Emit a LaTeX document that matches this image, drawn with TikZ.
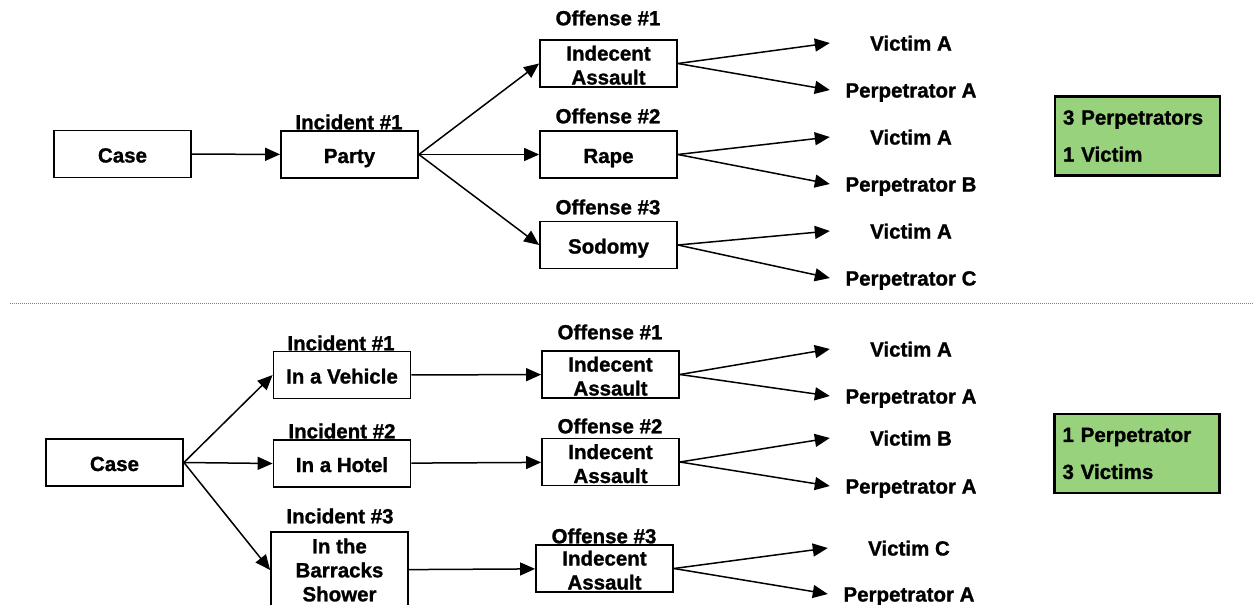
\documentclass[tikz,border=0pt]{standalone}
\usepackage{fontspec}
\setmainfont{Liberation Sans}[BoldFeatures={FakeBold=1.2}]
\usetikzlibrary{arrows.meta}
\definecolor{sumgreen}{RGB}{152,210,124}
\begin{document}
\begin{tikzpicture}[x=1pt,y=-1pt,
  every node/.style={font=\fontsize{20.5}{24}\selectfont\bfseries, inner sep=0pt},
  box/.style={draw, line width=1.8pt, minimum width=137pt, minimum height=47pt,
    text height=17pt, text depth=0pt},
  box2/.style={draw, line width=1.8pt, minimum width=137pt, minimum height=47pt,
    align=center, text height=42pt, text depth=0pt},
  who/.style={minimum width=162pt, text height=15pt, text depth=0pt},
  arr/.style={-{Triangle[length=15pt,width=13pt]}, line width=1.5pt},
  summary/.style={draw, line width=2.5pt, fill=sumgreen, minimum height=79pt,
    text width=149pt, inner xsep=8pt, align=left}
]
\clip (0,0) rectangle (1254,605);

% ---------- one incident, several offenses ----------
\node[box] (caseA) at (122.5,154) {Case};
\node[box] (party) at (349.5,154.5) {Party};
\node (incA) at (349,122) {Incident \#1};

\node[box2] (oA1) at (608.5,63.5) {Indecent\\Assault};
\node[box] (oA2) at (608.5,154.5) {Rape};
\node[box] (oA3) at (608.5,245) {Sodomy};
\node (loA1) at (608,18) {Offense \#1};
\node (loA2) at (608,116) {Offense \#2};
\node (loA3) at (608,207) {Offense \#3};

\node[who] (vA1) at (911,43) {Victim A};
\node[who] (pA1) at (911,90) {Perpetrator A};
\node[who] (vA2) at (911,137) {Victim A};
\node[who] (pA2) at (911,184) {Perpetrator B};
\node[who] (vA3) at (911,231) {Victim A};
\node[who] (pA3) at (911,278) {Perpetrator C};

\draw[arr] (caseA) -- (party);
\draw[arr] (party.east) -- (oA1.west);
\draw[arr] (party.east) -- (oA2.west);
\draw[arr] (party.east) -- (oA3.west);
\foreach \i in {1,2,3}{
  \draw[arr] (oA\i.east) -- (vA\i.west);
  \draw[arr] (oA\i.east) -- (pA\i.west);
}

\node[summary] (sumA) at (1137.5,136) {3 Perpetrators\\[13pt]1 Victim};

% ---------- separator ----------
\draw[line width=0.8pt, gray, dash pattern=on 1pt off 1pt] (10,303) -- (1254,303);

% ---------- several incidents, one perpetrator ----------
\node[box] (caseB) at (114.5,462.5) {Case};
\node[box] (iB1) at (342,375) {In a Vehicle};
\node[box] (iB2) at (342,463.5) {In a Hotel};
\node[draw, line width=1.8pt, minimum width=137pt, minimum height=76pt, align=center]
  (iB3) at (339.5,570) {In the\\Barracks\\Shower};
\node (liB1) at (341,343) {Incident \#1};
\node (liB2) at (342,431) {Incident \#2};
\node (liB3) at (340,516) {Incident \#3};

\node[box2] (oB1) at (610.5,374.5) {Indecent\\Assault};
\node[box2] (oB2) at (610.5,462) {Indecent\\Assault};
\node[box2] (oB3) at (604.5,568.5) {Indecent\\Assault};
\node (loB1) at (610,332) {Offense \#1};
\node (loB2) at (610,426) {Offense \#2};
\node (loB3) at (604,536) {Offense \#3};

\node[who] (vB1) at (911,349) {Victim A};
\node[who] (pB1) at (911,396) {Perpetrator A};
\node[who] (vB2) at (911,438) {Victim B};
\node[who] (pB2) at (911,486) {Perpetrator A};
\node[who] (vB3) at (909,548) {Victim C};
\node[who] (pB3) at (909,594) {Perpetrator A};

\foreach \i in {1,2,3}{
  \draw[arr] (caseB.east) -- (iB\i.west);
  \draw[arr] (iB\i) -- (oB\i);
  \draw[arr] (oB\i.east) -- (vB\i.west);
  \draw[arr] (oB\i.east) -- (pB\i.west);
}

\node[summary] (sumB) at (1137,453.5) {1 Perpetrator\\[13pt]3 Victims};
\end{tikzpicture}
\end{document}
